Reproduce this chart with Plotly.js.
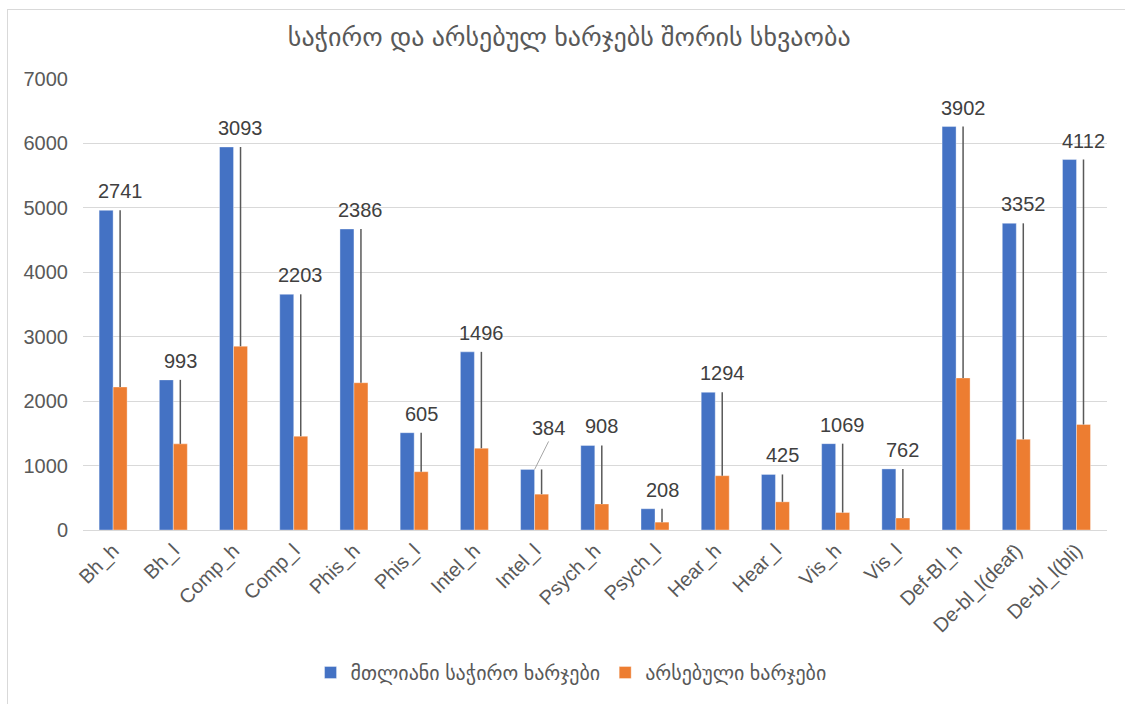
<!DOCTYPE html>
<html>
<head>
<meta charset="utf-8">
<script src="https://cdn.plot.ly/plotly-3.0.1.min.js"></script>
<style>
  html, body { margin: 0; padding: 0; background: #ffffff; overflow: hidden; }
  #frame { position: absolute; left: 7px; top: 9px; width: 1300px; height: 900px; border: 1px solid #d9d9d9; box-sizing: border-box; }
  #chart { position: absolute; left: 0; top: 0; width: 1125px; height: 704px; }
</style>
</head>
<body>
<div id="frame"></div>
<div id="chart"></div>
<script>
// ---- data ----
const categories = ["Bh_h", "Bh_l", "Comp_h", "Comp_l", "Phis_h", "Phis_l", "Intel_h", "Intel_l",
  "Psych_h", "Psych_l", "Hear_h", "Hear_l", "Vis_h", "Vis_l", "Def-Bl_h", "De-bl_l(deaf)", "De-bl_l(bli)"];
const totalCosts    = [4961, 2330, 5945, 3658, 4672, 1510, 2765, 940, 1312, 330, 2137, 862, 1340, 948, 6262, 4760, 5750];
const existingCosts = [2220, 1337, 2852, 1455, 2286,  905, 1269, 556,  404, 122,  843, 437,  271, 186, 2360, 1408, 1638];
const gapLabels     = [2741,  993, 3093, 2203, 2386,  605, 1496, 384,  908, 208, 1294, 425, 1069, 762, 3902, 3352, 4112];

const seriesNames = ["მთლიანი საჭირო ხარჯები", "არსებული ხარჯები"];
const chartTitle = "საჭირო და არსებულ ხარჯებს შორის სხვაობა";

const FONT = "Helvetica, 'Liberation Sans', Arial, 'DejaVu Sans', sans-serif";
const gap = totalCosts.map((t, i) => t - existingCosts[i]);

const traces = [
  {
    type: "bar", name: seriesNames[0], x: categories, y: totalCosts,
    marker: { color: "#4472C4", line: { color: "rgba(255,255,255,0.6)", width: 0.6 } },
    hoverinfo: "x+y"
  },
  {
    type: "bar", name: seriesNames[1], x: categories, y: existingCosts,
    marker: { color: "#ED7D31", line: { color: "rgba(255,255,255,0.6)", width: 0.6 } },
    error_y: { type: "data", symmetric: false, array: gap, arrayminus: gap.map(() => 0),
               color: "#595959", thickness: 1.5, width: 0 },
    hoverinfo: "x+y"
  }
];

const annotations = categories.map((c, i) => {
  const a = {
    x: c, y: totalCosts[i], xref: "x", yref: "y",
    text: String(gapLabels[i]), showarrow: false,
    xanchor: "center", yanchor: "bottom", xshift: 7, yshift: 6,
    font: { family: FONT, size: 20, color: "#404040" }
  };
  if (c === "Intel_l") {
    a.showarrow = true; a.arrowhead = 0; a.arrowwidth = 1; a.arrowcolor = "#a6a6a6";
    a.ax = 14; a.ay = -28; a.xshift = 0; a.yshift = 0; a.standoff = 0;
    a.xanchor = "center"; a.yanchor = "bottom";
  }
  return a;
});

const layout = {
  width: 1125, height: 704,
  paper_bgcolor: "rgba(0,0,0,0)", plot_bgcolor: "rgba(0,0,0,0)",
  margin: { l: 83, r: 18, t: 79, b: 172 },
  title: { text: chartTitle, x: 0.506, xanchor: "center", y: 0.947, yanchor: "middle",
           font: { family: FONT, size: 26, color: "#595959" } },
  barmode: "group", bargap: 0.535, bargroupgap: 0,
  showlegend: true,
  legend: { orientation: "h", x: 0.4766, xanchor: "center", y: -0.316, yanchor: "middle",
            font: { family: FONT, size: 20, color: "#595959" }, itemwidth: 30, tracegroupgap: 0 },
  xaxis: {
    type: "category", tickangle: -45, showgrid: false, zeroline: false,
    showline: true, linecolor: "#d9d9d9", linewidth: 1, ticks: "",
    tickfont: { family: FONT, size: 20, color: "#595959" }
  },
  yaxis: {
    range: [0, 7000], dtick: 1000, tick0: 0, showgrid: true, gridcolor: "#d9d9d9", gridwidth: 1,
    zeroline: false, showline: false, ticks: "", ticklabelstandoff: 14,
    tickfont: { family: FONT, size: 20, color: "#595959" }
  },
  annotations: annotations
};

Plotly.newPlot("chart", traces, layout, { displayModeBar: false, staticPlot: true });
</script>
</body>
</html>
